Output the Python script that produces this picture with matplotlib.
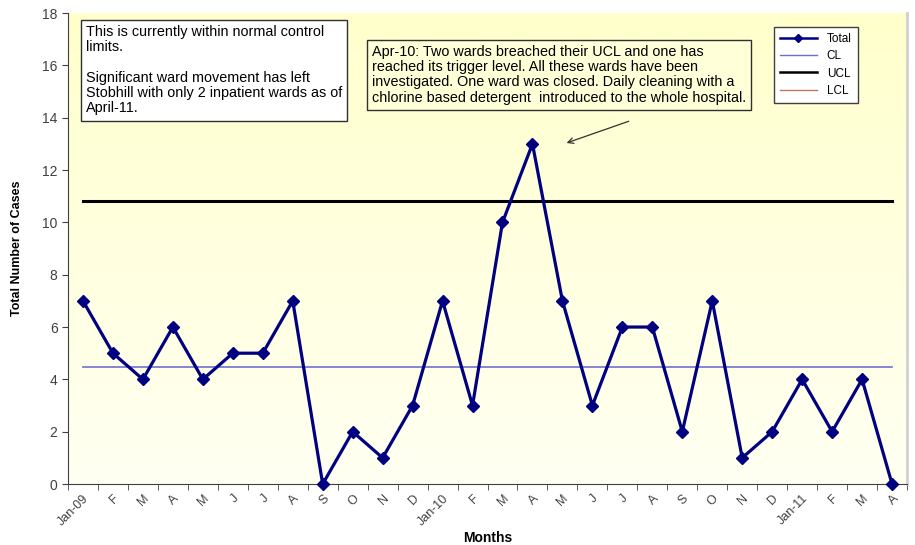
import numpy as np
import matplotlib
matplotlib.use("Agg")
import matplotlib.pyplot as plt
from matplotlib.lines import Line2D

plt.rcParams['font.family'] = ['Liberation Sans', 'DejaVu Sans']

months = ["Jan-09", "F", "M", "A", "M", "J", "J", "A", "S", "O", "N", "D",
          "Jan-10", "F", "M", "A", "M", "J", "J", "A", "S", "O", "N", "D",
          "Jan-11", "F", "M", "A"]
total = [7, 5, 4, 6, 4, 5, 5, 7, 0, 2, 1, 3,
         7, 3, 10, 13, 7, 3, 6, 6, 2, 7, 1, 2,
         4, 2, 4, 0]
cl_value = 4.47
ucl_value = 10.83
lcl_value = -1.9

n = len(months)
x = np.arange(n)
cl = [cl_value] * n
ucl = [ucl_value] * n
lcl = [lcl_value] * n

fig = plt.figure(figsize=(9.15, 5.45), dpi=100)
ax = fig.add_axes([0.0743, 0.1119, 0.9170, 0.8641])

# gradient background
grad = np.linspace(0, 1, 256).reshape(-1, 1)
top = np.array([1.0, 1.0, 0.80])
bot = np.array([1.0, 1.0, 0.95])
img = bot + (top - bot) * grad
ax.imshow(img[:, None, :].repeat(2, axis=1), extent=[0, 1, 0, 1], origin='lower',
          transform=ax.transAxes, aspect='auto', zorder=0)

ax.plot(x, lcl, color='#C0785A', lw=1.0, zorder=2)
ax.plot(x, cl, color='#7070D0', lw=1.2, zorder=2)
ax.plot(x, ucl, color='black', lw=2.2, zorder=2)
ax.plot(x, total, color='#000080', lw=2.3, marker='D', markersize=6, zorder=3, clip_on=False)

ax.set_xlim(-0.5, n - 0.5)
ax.set_ylim(0, 18)
ax.set_yticks(range(0, 19, 2))
ax.set_yticklabels([str(v) for v in range(0, 19, 2)], color='#404040', fontsize=10)
ax.set_xticks(x)
ax.set_xticklabels(months, rotation=45, ha='right', rotation_mode='anchor',
                   color='#404040', fontsize=9)
ax.tick_params(axis='x', length=0, pad=6)
ax.set_xticks(np.arange(-0.5, n, 1), minor=True)
ax.tick_params(axis='x', which='minor', length=4, color='#404040')
ax.tick_params(axis='y', length=4, color='#404040')

ax.spines['top'].set_visible(False)
ax.spines['right'].set_color('#D0D0D0')
ax.spines['right'].set_linewidth(2)
ax.spines['left'].set_color('#404040')
ax.spines['bottom'].set_color('#404040')

ax.set_ylabel('Total Number of Cases', fontsize=9, fontweight='bold', labelpad=14)
ax.set_xlabel('Months', fontsize=10, fontweight='bold', labelpad=2)

# annotation boxes
ax.text(0.021, 0.975,
        "This is currently within normal control\nlimits.\n\nSignificant ward movement has left\nStobhill with only 2 inpatient wards as of\nApril-11.",
        transform=ax.transAxes, ha='left', va='top', fontsize=10.4, linespacing=1.12,
        bbox=dict(boxstyle='square,pad=0.35', fc='white', ec='#303030', lw=1), zorder=5)
ax.text(0.362, 0.933,
        "Apr-10: Two wards breached their UCL and one has\nreached its trigger level. All these wards have been\ninvestigated. One ward was closed. Daily cleaning with a\nchlorine based detergent  introduced to the whole hospital.",
        transform=ax.transAxes, ha='left', va='top', fontsize=10.4, linespacing=1.12,
        bbox=dict(boxstyle='square,pad=0.35', fc='#FFFFD8', ec='#303030', lw=1), zorder=5)
ax.annotate('', xy=(16.05, 13.0), xytext=(18.3, 13.9),
            arrowprops=dict(arrowstyle='->', color='#303030', lw=0.9), zorder=5)

handles = [
    Line2D([], [], color='#000080', lw=1.8, marker='D', markersize=4),
    Line2D([], [], color='#7070D0', lw=1.0),
    Line2D([], [], color='black', lw=1.8),
    Line2D([], [], color='#C0785A', lw=1.0),
]
leg = ax.legend(handles, ['Total', 'CL', 'UCL', 'LCL'], loc='upper right',
                bbox_to_anchor=(0.948, 0.983), fontsize=8.5, frameon=True,
                fancybox=False, edgecolor='#404040', framealpha=1,
                handlelength=3.2, labelspacing=0.45, borderpad=0.5)
leg.get_frame().set_facecolor('white')
leg.get_frame().set_linewidth(1)
leg.set_zorder(6)

fig.savefig('out.png', dpi=100)
